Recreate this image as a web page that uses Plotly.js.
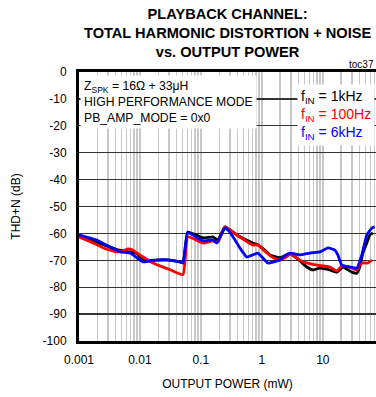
<!DOCTYPE html>
<html>
<head>
<meta charset="utf-8">
<script src="https://cdn.plot.ly/plotly-3.0.1.min.js"></script>
<style>html,body{margin:0;padding:0;background:#fff;}#chart{width:376px;height:397px;}</style>
</head>
<body>
<div id="chart"></div>
<script>
// Output power (mW) and THD+N (dB) per input frequency
const seriesNames = ["f<sub>IN</sub> = 1kHz", "f<sub>IN</sub> = 100Hz", "f<sub>IN</sub> = 6kHz"];
const seriesColors = ["#000000", "#ff0000", "#0000ff"];

const power1k = [0.001, 0.0019, 0.0042, 0.0089, 0.0112, 0.019, 0.031, 0.045, 0.051, 0.061, 0.108, 0.157, 0.19, 0.247, 0.389, 0.712, 0.86, 1.21, 1.35, 2.0, 2.88, 3.75, 5.47, 6.86, 8.9, 13, 17, 21.3, 29.9, 36, 40.4, 45.3, 52.6, 58.9, 66];
const thd1k = [-61.0, -63.2, -66.0, -67.5, -70.0, -69.9, -69.9, -70.6, -71.0, -59.5, -61.7, -61.3, -62.5, -57.6, -60.6, -63.6, -64.3, -66.9, -68.0, -69.0, -67.7, -69.2, -72.5, -73.6, -72.9, -73.6, -74.4, -72.5, -74.4, -74.8, -72.5, -67.3, -63.6, -60.6, -59.8];

const power100 = [0.001, 0.0019, 0.0025, 0.0042, 0.0055, 0.0064, 0.0075, 0.0089, 0.0163, 0.031, 0.051, 0.061, 0.108, 0.157, 0.19, 0.247, 0.389, 0.712, 0.86, 1.21, 1.6, 1.97, 2.5, 2.9, 3.75, 4.7, 8, 13, 17, 20.5, 27.7, 36, 40.4, 45, 55, 64];
const thd100 = [-61.3, -64.0, -65.4, -66.9, -66.3, -65.8, -66.1, -67.3, -71.0, -73.5, -75.3, -61.3, -63.6, -62.8, -63.2, -57.6, -60.6, -64.3, -64.3, -67.3, -69.2, -69.9, -68.8, -67.7, -69.2, -70.6, -71.8, -72.5, -74.0, -72.1, -72.5, -73.6, -71.8, -71.0, -71.0, -69.9];

const power6k = [0.001, 0.0019, 0.0047, 0.0069, 0.0112, 0.019, 0.031, 0.045, 0.051, 0.061, 0.108, 0.157, 0.183, 0.247, 0.299, 0.436, 0.568, 0.86, 1.25, 1.97, 2.21, 2.88, 4.2, 6.12, 8.93, 12.1, 15.7, 17.6, 20.5, 27.7, 36.1, 43.6, 52.6, 63.6, 71];
const thd6k = [-60.5, -62.4, -66.9, -67.3, -70.6, -69.9, -69.9, -70.6, -71.0, -59.8, -62.8, -62.4, -63.6, -58.0, -59.5, -65.4, -68.8, -67.3, -71.0, -69.9, -68.8, -67.3, -68.0, -67.3, -66.9, -65.4, -66.2, -68.0, -71.8, -72.5, -72.9, -68.0, -60.6, -58.0, -57.6];

const xTickVals = [0.001, 0.01, 0.1, 1, 10];
const xTickText = ["0.001", "0.01", "0.1", "1", "10"];
const yTickVals = [0, -10, -20, -30, -40, -50, -60, -70, -80, -90, -100];
const yTickText = ["0", "-10", "-20", "-30", "-40", "-50", "-60", "-70", "-80", "-90", "-100"];

const titleLines = ["PLAYBACK CHANNEL:", "TOTAL HARMONIC DISTORTION + NOISE", "vs. OUTPUT POWER"];
const conditionLines = ["Z<sub>SPK</sub> = 16Ω + 33μH", "HIGH PERFORMANCE MODE", "PB_AMP_MODE = 0x0"];

const xs = [power1k, power100, power6k];
const ys = [thd1k, thd100, thd6k];
const traces = xs.map((x, i) => ({
  x: x, y: ys[i], type: "scatter", mode: "lines",
  name: seriesNames[i],
  line: {color: seriesColors[i], width: 2.8, shape: "spline", smoothing: 0.4},
  showlegend: false, hoverinfo: "skip"
}));

const font = "Liberation Sans, Arial, sans-serif";
const legendText = seriesNames.map((n, i) => '<span style="color:' + seriesColors[i] + '">' + n + '</span>').join("<br>");

const layout = {
  width: 376, height: 397,
  margin: {l: 79, r: 0, t: 72, b: 56},
  paper_bgcolor: "#fff", plot_bgcolor: "#fff",
  font: {family: font, size: 12, color: "#000"},
  title: {text: ""},
  xaxis: {
    type: "log", range: [-3, 1.872],
    tickvals: xTickVals, ticktext: xTickText, ticks: "", ticklabelstandoff: 6,
    showgrid: true, gridcolor: "#c8c8c8", gridwidth: 1.5,
    minor: {dtick: "D1", showgrid: true, gridcolor: "#c8c8c8", gridwidth: 1.5, ticks: ""},
    showline: true, linecolor: "#000", linewidth: 3, mirror: true,
    zeroline: false,
    tickfont: {family: font, size: 12},
    title: {text: "OUTPUT POWER (mW)", font: {family: font, size: 12}, standoff: 14}
  },
  yaxis: {
    range: [-100, 0], tickvals: yTickVals, ticktext: yTickText, ticks: "", ticklabelstandoff: 7,
    showgrid: true, gridcolor: "#333", gridwidth: 1.3,
    showline: true, linecolor: "#000", linewidth: 3,
    zeroline: false,
    tickfont: {family: font, size: 12},
    title: {text: "THD+N (dB)", font: {family: font, size: 12}, standoff: 20}
  },
  annotations: [
    {xref: "paper", yref: "paper", x: 0.5, y: 1, xanchor: "center", yanchor: "bottom", yshift: 10,
     text: "<b>" + titleLines.join("<br>") + "</b>", showarrow: false,
     font: {family: font, size: 14.6, color: "#000"}},
    {xref: "paper", yref: "paper", x: 0.004, y: 0.987, xanchor: "left", yanchor: "top",
     text: conditionLines.join("<br>"), align: "left", showarrow: false,
     bgcolor: "#fff", borderpad: 3, font: {family: font, size: 12.2, color: "#000"}},
    {xref: "paper", yref: "paper", x: 0.735, y: 0.955, xanchor: "left", yanchor: "top",
     text: legendText, align: "left", showarrow: false,
     bgcolor: "#fff", borderpad: 3, font: {family: font, size: 14}},
    {xref: "paper", yref: "paper", x: 1, y: 1, xanchor: "right", yanchor: "bottom",
     text: "toc37", showarrow: false, font: {family: font, size: 10}}
  ]
};

Plotly.newPlot("chart", traces, layout, {displayModeBar: false, staticPlot: true});
</script>
</body>
</html>
